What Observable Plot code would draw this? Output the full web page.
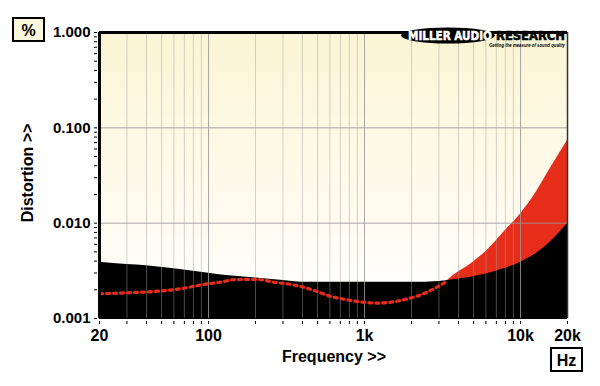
<!DOCTYPE html>
<html><head><meta charset="utf-8">
<script src="https://cdn.jsdelivr.net/npm/d3@7"></script>
<script src="https://cdn.jsdelivr.net/npm/@observablehq/plot@0.6"></script>
<style>body{margin:0;background:#fff} svg{display:block}</style>
</head><body><div id="chart"></div>
<script>
// Black trace (upper channel at LF, lower at HF)
const blackFreq = [20,30,40,60,80,100,130,200,300,400,700,1000,2000,3000,3700,4800,6100,7800,10000,12800,14800,17000,20000];
const blackVal  = [0.0039,0.00368,0.00357,0.00332,0.00313,0.00298,0.00282,0.00266,0.0025,0.0024,0.0024,0.0024,0.0024,0.00245,0.00255,0.00271,0.00294,0.00332,0.0039,0.0049,0.0059,0.0074,0.0099];
// Red trace
const redFreq = [20,30,40,54,66,80,98,119,145,177,215,262,320,389,474,578,775,990,1200,1620,2000,2290,2650,3300,3700,4800,6100,7800,10000,12800,14800,20000];
const redVal  = [0.00182,0.00186,0.0019,0.00197,0.00205,0.00217,0.00231,0.0024,0.00255,0.00257,0.00255,0.0024,0.00231,0.00217,0.00197,0.00175,0.00157,0.00148,0.00145,0.00152,0.00165,0.00177,0.00197,0.0024,0.00282,0.00374,0.00517,0.00804,0.0125,0.022,0.033,0.0736];

const xTickValues = [20,100,1000,10000,20000];
const xTickLabels = ["20","100","1k","10k","20k"];
const yTickValues = [0.001,0.01,0.1,1];
const yTickLabels = ["0.001","0.010","0.100","1.000"];
const xMajorGrid = [100,1000,10000];
const xMinorGrid = [30,40,50,60,70,80,90,200,300,400,500,600,700,800,900,2000,3000,4000,5000,6000,7000,8000,9000];
const yMajorGrid = [0.01,0.1];
const yMinorTicks = [0.002,0.003,0.004,0.005,0.006,0.007,0.008,0.009,0.02,0.03,0.04,0.05,0.06,0.07,0.08,0.09,0.2,0.3,0.4,0.5,0.6,0.7,0.8,0.9];
const xMinorTicks = xMinorGrid.concat(xMajorGrid);

const black = blackFreq.map((f,i)=>({f, v: blackVal[i]}));
const red = redFreq.map((f,i)=>({f, v: redVal[i]}));
const RED = "#e52d1a";

const plot = Plot.plot({
  width: 600, height: 386,
  marginLeft: 99, marginRight: 33, marginTop: 32, marginBottom: 68,
  style: {fontFamily: "'Liberation Sans', Arial, sans-serif", background: "white", color: "black", overflow: "visible"},
  x: {type: "log", domain: [20, 20000], label: null},
  y: {type: "log", domain: [0.001, 1], label: null},
  marks: [
    Plot.frame({fill: "url(#bgGrad)", stroke: null}),
    Plot.areaY(red, {x: "f", y1: 0.001, y2: "v", fill: RED, curve: "monotone-x"}),
    Plot.areaY(black, {x: "f", y1: 0.001, y2: "v", fill: "black", curve: "monotone-x"}),
    Plot.ruleX(xMinorGrid, {stroke: "#a0a0a0", strokeOpacity: 0.45}),
    Plot.ruleX(xMajorGrid, {stroke: "#999", strokeOpacity: 0.85}),
    Plot.ruleY(yMajorGrid, {stroke: "#999", strokeOpacity: 0.85}),
    Plot.line(red, {filter: d => d.f <= 3300, x: "f", y: "v", stroke: RED, strokeWidth: 3.2, strokeDasharray: "3,4", curve: "monotone-x"}),
    Plot.ruleX([20000], {stroke: "#333", strokeWidth: 1.5}),
    Plot.ruleY([1], {stroke: "black", strokeWidth: 3}),
    Plot.ruleY([0.001], {stroke: "black", strokeWidth: 1}),
    Plot.ruleX([20], {stroke: "black", strokeWidth: 3}),
    Plot.axisY(yTickValues, {anchor: "left", tickSize: 3, tickPadding: 4, dx: -2, fontSize: 15, fontWeight: "bold",
      tickFormat: d => yTickLabels[yTickValues.indexOf(d)], label: null}),
    Plot.axisY(yMinorTicks, {anchor: "left", tickSize: 3, dx: -2, tickFormat: () => "", label: null}),
    Plot.axisX(xTickValues, {anchor: "bottom", tickSize: 3, tickPadding: 5, dy: 3, fontSize: 16, fontWeight: "bold",
      tickFormat: d => xTickLabels[xTickValues.indexOf(d)], label: null}),
    Plot.axisX(xMinorTicks, {anchor: "bottom", tickSize: 3, dy: 3, tickFormat: () => "", label: null})
  ]
});

const svg = d3.select(plot);
const defs = svg.insert("defs", ":first-child");
const g = defs.append("linearGradient").attr("id", "bgGrad").attr("x1", 0).attr("y1", 0).attr("x2", 0).attr("y2", 1);
g.append("stop").attr("offset", "0%").attr("stop-color", "#fbf5d4");
g.append("stop").attr("offset", "100%").attr("stop-color", "#ffffff");

const font = "'Liberation Sans', Arial, sans-serif";
// unit boxes
svg.append("rect").attr("x", 13).attr("y", 18).attr("width", 31).attr("height", 23)
  .attr("fill", "#fbf7dc").attr("stroke", "black").attr("stroke-width", 2);
svg.append("text").attr("x", 28.5).attr("y", 36).attr("text-anchor", "middle")
  .attr("font-family", font).attr("font-size", 16).attr("font-weight", "bold").text("%");
svg.append("rect").attr("x", 551).attr("y", 348).attr("width", 31).attr("height", 23)
  .attr("fill", "white").attr("stroke", "black").attr("stroke-width", 2);
svg.append("text").attr("x", 566.5).attr("y", 365.5).attr("text-anchor", "middle")
  .attr("font-family", font).attr("font-size", 16).attr("font-weight", "bold").text("Hz");
// axis titles
svg.append("text").attr("x", 334).attr("y", 362).attr("text-anchor", "middle")
  .attr("font-family", font).attr("font-size", 16).attr("font-weight", "bold").text("Frequency >>");
svg.append("text").attr("transform", "translate(33,173) rotate(-90)").attr("text-anchor", "middle")
  .attr("font-family", font).attr("font-size", 16).attr("font-weight", "bold").text("Distortion >>");
// logo
const logo = svg.append("g").attr("text-anchor", "start");
logo.append("ellipse").attr("cx", 448).attr("cy", 35.5).attr("rx", 47).attr("ry", 8).attr("fill", "black");
logo.append("text").attr("x", 408).attr("y", 40).attr("text-anchor", "start").attr("font-family", "'DejaVu Sans', sans-serif").attr("font-size", 11.5)
  .attr("font-weight", "bold").attr("fill", "white").attr("stroke", "white").attr("stroke-width", 0.5)
  .attr("textLength", 84).attr("lengthAdjust", "spacingAndGlyphs").text("MILLER AUDIO");
logo.append("text").attr("x", 496).attr("y", 40).attr("text-anchor", "start").attr("font-family", "'DejaVu Sans', sans-serif").attr("font-size", 11.5)
  .attr("font-weight", "bold").attr("fill", "black").attr("stroke", "black").attr("stroke-width", 0.5)
  .attr("textLength", 69).attr("lengthAdjust", "spacingAndGlyphs").text("RESEARCH");
logo.append("text").attr("x", 489).attr("y", 47).attr("text-anchor", "start").attr("font-family", font).attr("font-size", 5)
  .attr("font-weight", "bold").attr("font-style", "italic").attr("fill", "black").attr("textLength", 76).attr("lengthAdjust", "spacingAndGlyphs").text("Getting the measure of sound quality");

document.getElementById("chart").appendChild(plot);
</script>
</body></html>
